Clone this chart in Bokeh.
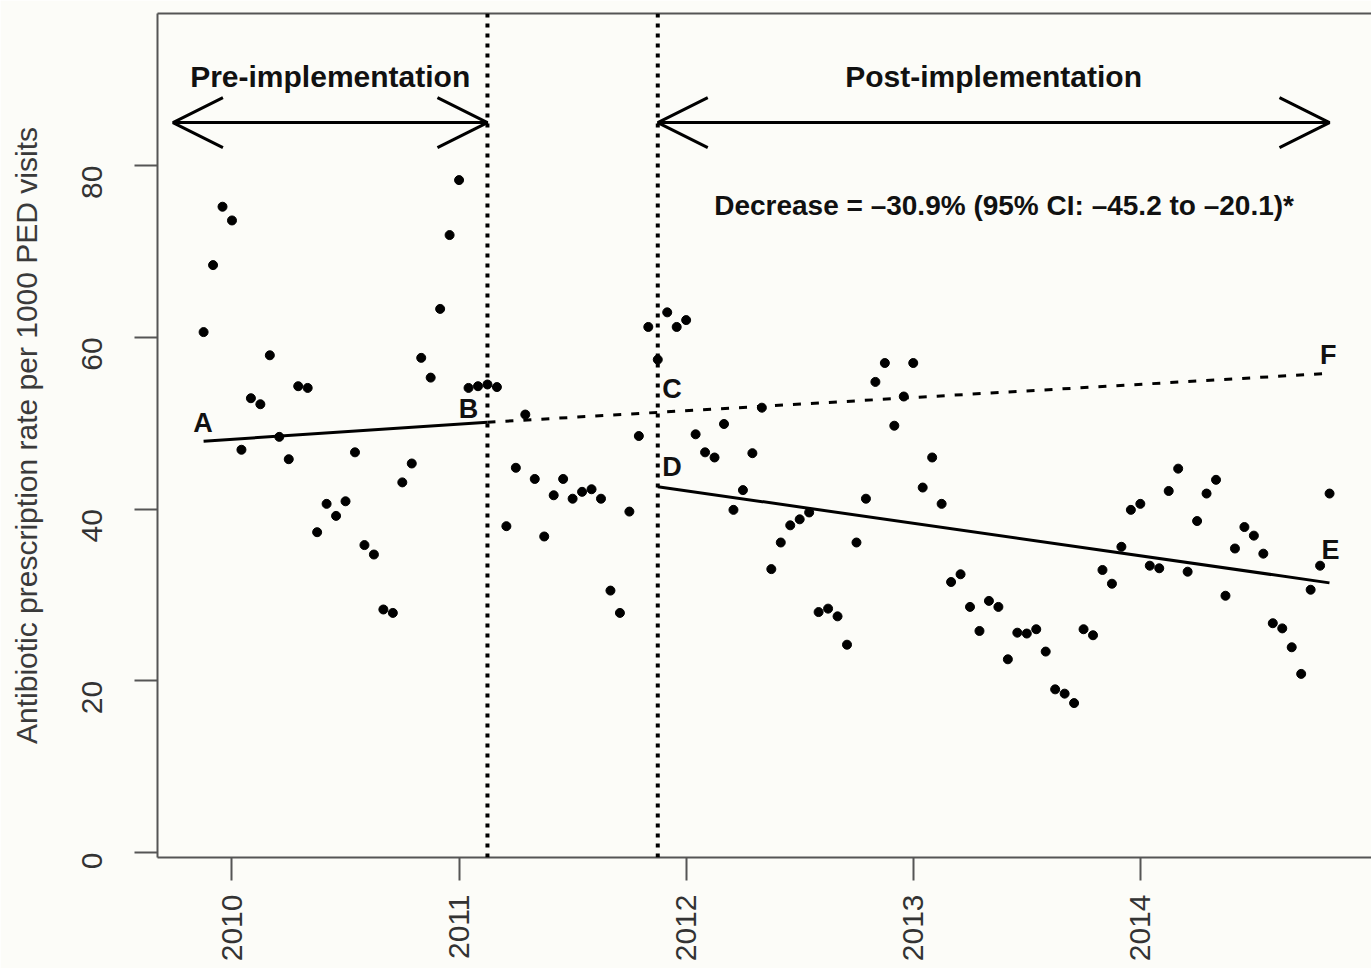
import math
from bokeh.plotting import figure
from bokeh.models import Range1d, FixedTicker, LinearAxis, Span, Arrow, OpenHead, Label
from bokeh.embed import file_html
from bokeh.resources import INLINE

# ---------------- data ----------------
first_period = 2009.875          # first semi-monthly period
periods_per_year = 24
rates = [
    60.6, 68.4, 75.2, 73.6, 46.9, 52.9, 52.2, 57.9, 48.4, 45.8,
    54.3, 54.1, 37.3, 40.6, 39.2, 40.9, 46.6, 35.8, 34.7, 28.3,
    27.9, 43.1, 45.3, 57.6, 55.3, 63.3, 71.9, 78.3, 54.1, 54.3,
    54.5, 54.2, 38.0, 44.8, 51.0, 43.5, 36.8, 41.6, 43.5, 41.2,
    42.0, 42.3, 41.2, 30.5, 27.9, 39.7, 48.5, 61.2, 57.4, 62.9,
    61.2, 62.0, 48.7, 46.6, 46.0, 49.9, 39.9, 42.2, 46.5, 51.8,
    33.0, 36.1, 38.1, 38.8, 39.6, 28.0, 28.4, 27.5, 24.2, 36.1,
    41.2, 54.8, 57.0, 49.7, 53.1, 57.0, 42.5, 46.0, 40.6, 31.5,
    32.4, 28.6, 25.8, 29.3, 28.6, 22.5, 25.6, 25.5, 26.0, 23.4,
    19.0, 18.5, 17.4, 26.0, 25.3, 32.9, 31.3, 35.6, 39.9, 40.6,
    33.4, 33.1, 42.1, 44.7, 32.7, 38.6, 41.8, 43.4, 29.9, 35.4,
    37.9, 36.9, 34.8, 26.7, 26.1, 23.9, 20.8, 30.6, 33.4, 41.8,
]
periods = [first_period + i / periods_per_year for i in range(len(rates))]

implementation_start = 2011.125
implementation_end = 2011.875

pre_trend_x = [2009.875, 2011.125]
pre_trend_y = [47.9, 50.1]
counterfactual_x = [2011.125, 2014.833]
counterfactual_y = [50.1, 55.8]
post_trend_x = [2011.875, 2014.833]
post_trend_y = [42.6, 31.4]

point_labels = ["A", "B", "C", "D", "E", "F"]
point_label_x = [2009.872, 2011.042, 2011.938, 2011.938, 2014.837, 2014.828]
point_label_y = [50.0, 51.7, 54.0, 44.9, 35.2, 57.9]

pre_period_span = [2009.74, 2011.125]
post_period_span = [2011.875, 2014.833]
period_arrow_level = 85.0
period_titles = ["Pre-implementation", "Post-implementation"]
period_title_level = 90.4
decrease_text = "Decrease = \u201330.9% (95% CI: \u201345.2 to \u201320.1)*"
decrease_x = 2013.40
decrease_level = 75.3

x_ticks = [2010, 2011, 2012, 2013, 2014]
y_ticks = [0, 20, 40, 60, 80]
y_label = "Antibiotic prescription rate per 1000 PED visits"

# ---------------- style ----------------
bg = "#fcfcf8"
axis_col = "#555555"
FONT = "Liberation Sans"

p = figure(
    width=1371, height=968,
    x_range=Range1d(2009.672, 2015.018),
    y_range=Range1d(-0.58, 97.7),
    output_backend="svg", toolbar_location=None,
    min_border_left=157, min_border_right=0,
    min_border_top=13, min_border_bottom=111,
    background_fill_color=bg, border_fill_color=bg,
    outline_line_color=None,
)
p.grid.visible = False

for ax in (p.xaxis[0], p.yaxis[0]):
    ax.axis_line_color = axis_col
    ax.axis_line_width = 2
    ax.major_tick_line_color = axis_col
    ax.major_tick_line_width = 2
    ax.major_tick_out = 23
    ax.major_tick_in = 0
    ax.minor_tick_line_color = None
    ax.major_label_text_font = FONT
    ax.major_label_text_font_size = "30px"
    ax.major_label_text_color = "#333333"
    ax.major_label_orientation = math.pi / 2

p.xaxis.ticker = FixedTicker(ticks=x_ticks)
p.xaxis.major_label_standoff = 14
p.yaxis.ticker = FixedTicker(ticks=y_ticks)
p.yaxis.major_label_standoff = 42
p.yaxis.axis_label = y_label
p.yaxis.axis_label_text_font = FONT
p.yaxis.axis_label_text_font_size = "30px"
p.yaxis.axis_label_text_font_style = "normal"
p.yaxis.axis_label_text_color = "#3a3a3a"
p.yaxis.axis_label_standoff = 27

top = LinearAxis(ticker=FixedTicker(ticks=[]), axis_line_color=axis_col, axis_line_width=2,
                 major_tick_line_color=None, minor_tick_line_color=None,
                 major_label_text_font_size="0px", major_label_standoff=0)
p.add_layout(top, "above")

# implementation period boundaries
for loc in (implementation_start, implementation_end):
    p.add_layout(Span(location=loc, dimension="height", line_color="black",
                      line_width=4, line_dash="4 6"))

# trend lines
p.line(pre_trend_x, pre_trend_y, line_color="black", line_width=3)
p.line(counterfactual_x, counterfactual_y, line_color="black", line_width=3, line_dash="8 10")
p.line(post_trend_x, post_trend_y, line_color="black", line_width=3)

# observed rates
p.scatter(periods, rates, size=9, color="black")

# period arrows
for span in (pre_period_span, post_period_span):
    p.add_layout(Arrow(
        start=OpenHead(size=50, line_width=3, line_color="black"),
        end=OpenHead(size=50, line_width=3, line_color="black"),
        x_start=span[0], y_start=period_arrow_level,
        x_end=span[1], y_end=period_arrow_level,
        line_width=3, line_color="black"))

for title, span in zip(period_titles, (pre_period_span, post_period_span)):
    p.add_layout(Label(x=(span[0] + span[1]) / 2, y=period_title_level, text=title,
                       text_font=FONT, text_font_size="30px", text_font_style="bold",
                       text_align="center", text_baseline="alphabetic", text_color="#111111"))

p.add_layout(Label(x=decrease_x, y=decrease_level, text=decrease_text,
                   text_font=FONT, text_font_size="28px", text_font_style="bold",
                   text_align="center", text_baseline="alphabetic", text_color="#111111"))

for t, lx, ly in zip(point_labels, point_label_x, point_label_y):
    p.add_layout(Label(x=lx, y=ly, text=t, text_font=FONT, text_font_size="27px",
                       text_font_style="bold", text_align="center",
                       text_baseline="alphabetic", text_color="#111111"))

open("out.html", "w").write(file_html(p, INLINE))
